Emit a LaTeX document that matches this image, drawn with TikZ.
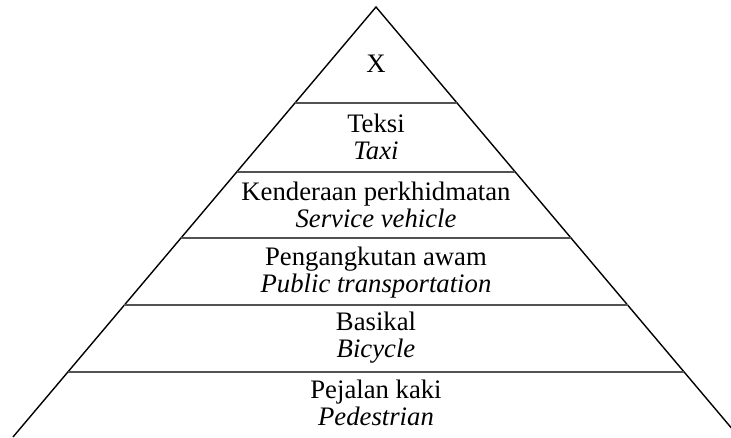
\documentclass[tikz,border=0pt]{standalone}
\usepackage{fontspec}
\setmainfont{Liberation Serif}
\usetikzlibrary{calc}
\tikzset{
  side/.style={draw=black, line width=0.7pt, line join=miter},
  tier/.style={draw=black!68, line width=1.2pt},
  tierlabel/.style={align=center, inner sep=0pt, font=\fontsize{13.4}{13.6}\selectfont}
}

\begin{document}
\begin{tikzpicture}[x=0.5bp, y=-0.5bp]
\useasboundingbox (0,0) rectangle (731,438);
\coordinate (apex) at (376,7);
\coordinate (bl) at (13,437);
\coordinate (br) at (739,437);
\draw[side] (bl) -- (apex) -- (br);
\foreach \t [count=\i] in {0.2233,0.3837,0.5372,0.6930,0.8488}
  \draw[tier] ($(apex)!\t!(bl)$) coordinate (l\i) -- ($(apex)!\t!(br)$) coordinate (r\i);
\node[tierlabel] (x) at (376,64) {X};
\node[tierlabel] (taxi) at (376,137) {Teksi\\\textit{Taxi}};
\node[tierlabel] (service) at (376,205) {Kenderaan perkhidmatan\\\textit{Service vehicle}};
\node[tierlabel] (public) at (376,273) {Pengangkutan awam\\\textit{Public transportation}};
\node[tierlabel] (bicycle) at (376,338) {Basikal\\\textit{Bicycle}};
\node[tierlabel] (pedestrian) at (376,403) {Pejalan kaki\\\textit{Pedestrian}};
\end{tikzpicture}
\end{document}
